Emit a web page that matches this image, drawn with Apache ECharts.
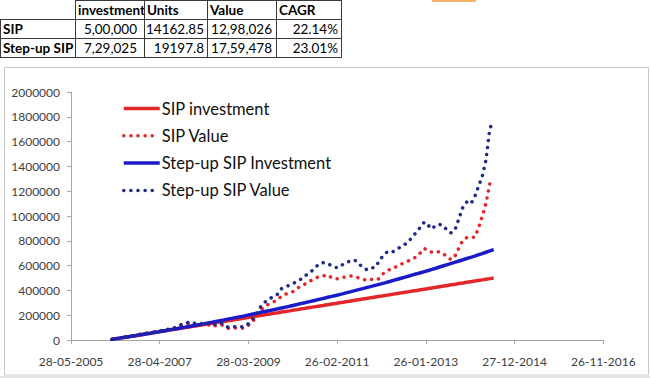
<!DOCTYPE html>
<html><head><meta charset="utf-8">
<script src="https://cdn.jsdelivr.net/npm/echarts@6/dist/echarts.min.js"></script>
<style>
html,body{margin:0;padding:0;background:#fff;}
#wrap{position:relative;width:650px;height:378px;overflow:hidden;background:#fff;}
#chart{position:absolute;left:0;top:0;width:650px;height:378px;}
.cell{position:absolute;box-sizing:border-box;font-family:Lato,'Noto Sans',sans-serif;font-size:13.5px;color:#000;line-height:18px;white-space:nowrap;overflow:visible;}
</style></head><body>
<div id="wrap"><div id="chart"></div><div id="table"></div></div>
<script>
// ---------------- data ----------------
const months = [
 '2006-04','2006-05','2006-06','2006-07','2006-08','2006-09','2006-10','2006-11','2006-12',
 '2007-01','2007-02','2007-03','2007-04','2007-05','2007-06','2007-07','2007-08','2007-09','2007-10','2007-11','2007-12',
 '2008-01','2008-02','2008-03','2008-04','2008-05','2008-06','2008-07','2008-08','2008-09','2008-10','2008-11','2008-12',
 '2009-01','2009-02','2009-03','2009-04','2009-05','2009-06','2009-07','2009-08','2009-09','2009-10','2009-11','2009-12',
 '2010-01','2010-02','2010-03','2010-04','2010-05','2010-06','2010-07','2010-08','2010-09','2010-10','2010-11','2010-12',
 '2011-01','2011-02','2011-03','2011-04','2011-05','2011-06','2011-07','2011-08','2011-09','2011-10','2011-11','2011-12',
 '2012-01','2012-02','2012-03','2012-04','2012-05','2012-06','2012-07','2012-08','2012-09','2012-10','2012-11','2012-12',
 '2013-01','2013-02','2013-03','2013-04','2013-05','2013-06','2013-07','2013-08','2013-09','2013-10','2013-11','2013-12',
 '2014-01','2014-02','2014-03','2014-04','2014-05','2014-06','2014-07'
];
const sipInvestment = [
 5000,10000,15000,20000,25000,30000,35000,40000,45000,50000,55000,60000,
 65000,70000,75000,80000,85000,90000,95000,100000,105000,110000,115000,120000,
 125000,130000,135000,140000,145000,150000,155000,160000,165000,170000,175000,180000,
 185000,190000,195000,200000,205000,210000,215000,220000,225000,230000,235000,240000,
 245000,250000,255000,260000,265000,270000,275000,280000,285000,290000,295000,300000,
 305000,310000,315000,320000,325000,330000,335000,340000,345000,350000,355000,360000,
 365000,370000,375000,380000,385000,390000,395000,400000,405000,410000,415000,420000,
 425000,430000,435000,440000,445000,450000,455000,460000,465000,470000,475000,480000,
 485000,490000,495000,500000
];
const sipValue = [
 5000,9800,13500,19500,26000,32000,38000,44000,50000,54000,58000,64000,
 68000,74000,79000,86000,91000,99000,117000,123000,135000,130000,118000,120000,
 127000,124000,108000,118000,125000,116000,95000,92000,97000,99000,95000,108000,
 136000,166000,215000,253000,278000,295000,309000,326000,355000,370000,380000,390000,
 415000,435000,450000,468000,486000,502000,514000,518000,524000,500000,492000,495000,
 505000,512000,516000,512000,500000,488000,484000,490000,487000,490000,528000,552000,
 568000,578000,598000,612000,625000,640000,655000,672000,704000,738000,715000,708000,
 710000,712000,695000,665000,648000,682000,745000,805000,826000,832000,828000,895000,
 995000,1100000,1262000,1298026
];
const stepupInvestment = [
 5000,10000,15000,20000,25000,30000,35000,40000,45000,50000,55000,60000,
 65500,71000,76500,82000,87500,93000,98500,104000,109500,115000,120500,126000,
 132050,138100,144150,150200,156250,162300,168350,174400,180450,186500,192550,198600,
 205255,211910,218565,225220,231875,238530,245185,251840,258495,265150,271805,278460,
 285781,293101,300422,307742,315063,322383,329704,337024,344345,351665,358986,366306,
 374359,382411,390464,398516,406569,414621,422674,430726,438779,446832,454884,462937,
 471794,480652,489510,498368,507226,516083,524941,533799,542657,551515,560372,569230,
 578974,588717,598461,608205,617948,627692,637435,647179,656923,666666,676410,686153,
 696871,707589,718307,729025
];
const stepupValue = [
 5000,9800,13500,19500,26000,32000,38000,44000,50000,54000,58000,64000,
 69000,76000,82000,90000,96000,105000,125000,132000,145000,140000,128000,130000,
 138000,135000,118000,130000,138000,128000,105000,102000,108000,110000,106000,120000,
 150000,185000,242000,286000,315000,335000,351000,371000,415000,431000,441000,456000,
 471000,490000,516000,535000,562000,594000,617000,625000,617000,597000,585000,585000,
 613000,629000,637000,645000,617000,585000,569000,585000,581000,621000,669000,702000,
 719000,712000,734000,754000,772000,798000,836000,871000,911000,952000,923000,895000,
 927000,931000,923000,879000,863000,895000,984000,1073000,1113000,1097000,1153000,1234000,
 1315000,1450000,1710000,1759478
];
const seriesNames = ['SIP investment','SIP Value','Step-up SIP Investment','Step-up SIP Value'];
const xTickLabels = ['28-05-2005','28-04-2007','28-03-2009','26-02-2011','26-01-2013','27-12-2014','26-11-2016'];
const tableHeader = ['', 'investment', 'Units', 'Value', 'CAGR'];
const tableRows = [
 ['SIP', '5,00,000', '14162.85', '12,98,026', '22.14%'],
 ['Step-up SIP', '7,29,025', '19197.8', '17,59,478', '23.01%']
];

// ---------------- table ----------------
(function(){
  const colX = [0,75,144,207,276,341];
  const rowY = [0,19,38,57];
  const padR = [0,7,3,4,3];
  const t = document.getElementById('table');
  const all = [tableHeader].concat(tableRows);
  all.forEach((row, r) => {
    row.forEach((txt, c) => {
      const d = document.createElement('div');
      d.className = 'cell';
      d.style.left = colX[c] + 'px';
      d.style.top = rowY[r] + 'px';
      d.style.width = (colX[c+1]-colX[c]+1) + 'px';
      d.style.height = (rowY[r+1]-rowY[r]+1) + 'px';
      const hidden = (r===0 && c===0);
      d.style.borderTop = hidden ? 'none' : '1px solid #3a3a3a';
      d.style.borderLeft = hidden ? 'none' : '1px solid #3a3a3a';
      d.style.borderRight = '1px solid #3a3a3a';
      d.style.borderBottom = '1px solid #3a3a3a';
      if (hidden) { d.style.borderRight='none'; }
      if (r===0 || c===0) {
        d.style.fontWeight = 'bold';
        d.style.textAlign = 'left';
        d.style.paddingLeft = '2px';
      } else {
        d.style.textAlign = 'right';
        d.style.paddingRight = padR[c] + 'px';
      }
      d.textContent = txt;
      t.appendChild(d);
    });
  });
  const o = document.createElement('div');
  o.style.cssText = 'position:absolute;left:432px;top:0;width:44px;height:2px;background:#f6b26b;';
  t.appendChild(o);
  const g = document.createElement('div');
  g.style.cssText = 'position:absolute;left:0;top:376px;width:650px;height:2px;background:#e4e4e4;';
  t.appendChild(g);
})();

// ---------------- chart ----------------
const toSerial = s => (Date.parse(s + '-15T00:00:00Z') - Date.UTC(1899, 11, 30)) / 86400000;
const pairs = vals => months.map((m, i) => [toSerial(m), vals[i]]);
const red = '#e3262a', blueLine = '#1a1ac8', blueDot = '#1f2a8a';
const dot = [0.1, 7];
const legendDot = [0.1, 7, 0.1, 7, 0.1, 7, 0.1, 7, 0.1, 16];
const FONT = 'Lato';

const chart = echarts.init(document.getElementById('chart'), null, {renderer: 'svg'});
chart.setOption({
  animation: false,
  backgroundColor: 'transparent',
  graphic: [{
    type: 'rect', silent: true, z: -10,
    shape: {x: 4.5, y: 67.5, width: 644, height: 307.5},
    style: {fill: '#fff', stroke: '#c8c8c8', lineWidth: 1}
  }],
  grid: {left: 71, right: 46.7, top: 92, bottom: 38, containLabel: false, outerBoundsMode: 'none'},
  legend: {
    orient: 'vertical', left: 122, top: 100, padding: 0,
    itemWidth: 36, itemHeight: 14, itemGap: 10.3,
    textStyle: {fontFamily: FONT, fontSize: 16.5, color: '#111', padding: [0, 0, 0, -3]},
    itemStyle: {opacity: 0},
    data: [
      {name: seriesNames[0], lineStyle: {width: 3.5}},
      {name: seriesNames[1], lineStyle: {width: 3.5, type: legendDot, cap: 'round'}},
      {name: seriesNames[2], lineStyle: {width: 3.5}},
      {name: seriesNames[3], lineStyle: {width: 3.5, type: legendDot, cap: 'round'}}
    ]
  },
  xAxis: {
    type: 'value', min: 38500, max: 42700, interval: 700,
    axisLine: {lineStyle: {color: '#a6a6a6', width: 1}},
    axisTick: {show: true, length: 4, lineStyle: {color: '#a6a6a6'}},
    splitLine: {show: false},
    axisLabel: {
      margin: 15, fontFamily: FONT, fontSize: 12, color: '#404040',
      formatter: v => xTickLabels[Math.round((v - 38500) / 700)] || ''
    }
  },
  yAxis: {
    type: 'value', min: 0, max: 2000000, interval: 200000,
    axisLine: {show: true, lineStyle: {color: '#a6a6a6', width: 1}},
    axisTick: {show: true, length: 4, lineStyle: {color: '#a6a6a6'}},
    splitLine: {show: false},
    axisLabel: {margin: 11, fontFamily: FONT, fontSize: 12, color: '#404040', formatter: v => String(v)}
  },
  series: [
    {name: seriesNames[0], type: 'line', data: pairs(sipInvestment), symbol: 'none', showSymbol: false,
     lineStyle: {color: red, width: 3.5}, itemStyle: {color: red}},
    {name: seriesNames[1], type: 'line', data: pairs(sipValue), symbol: 'none', showSymbol: false,
     lineStyle: {color: red, width: 3.5, type: dot, cap: 'round'}, itemStyle: {color: red}},
    {name: seriesNames[2], type: 'line', data: pairs(stepupInvestment), symbol: 'none', showSymbol: false,
     lineStyle: {color: blueLine, width: 3.5}, itemStyle: {color: blueLine}},
    {name: seriesNames[3], type: 'line', data: pairs(stepupValue), symbol: 'none', showSymbol: false,
     lineStyle: {color: blueDot, width: 3.5, type: dot, cap: 'round'}, itemStyle: {color: blueDot}}
  ]
});
</script>
</body></html>
